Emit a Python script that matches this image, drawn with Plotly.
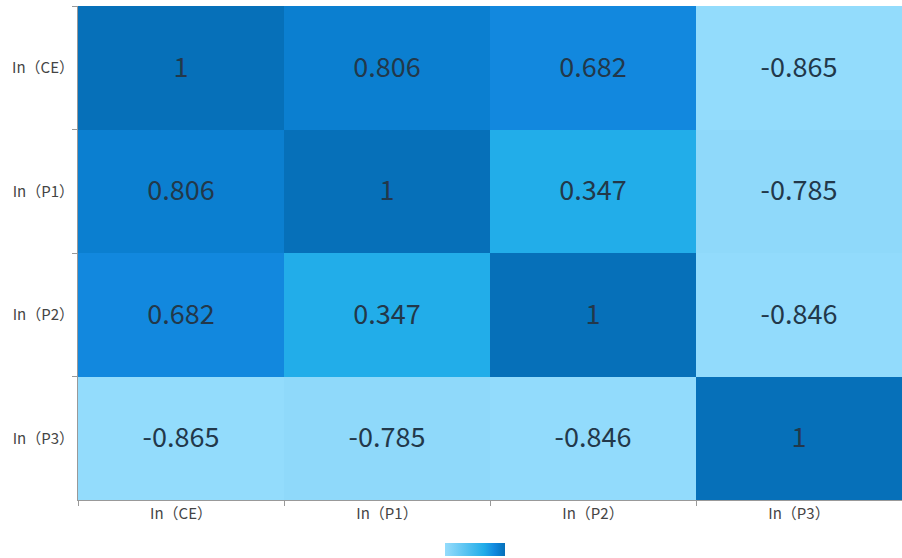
import plotly.graph_objects as go

labels = ["In（CE）", "In（P1）", "In（P2）", "In（P3）"]
corr = [
    [1, 0.806, 0.682, -0.865],
    [0.806, 1, 0.347, -0.785],
    [0.682, 0.347, 1, -0.846],
    [-0.865, -0.785, -0.846, 1],
]
text = [[("1" if v == 1 else f"{v:g}") for v in row] for row in corr]

zmin, zmax = -0.865, 1.0
def pos(v):
    return (v - zmin) / (zmax - zmin)

colorscale = [
    [0.0, "#93dcfc"],
    [pos(-0.785), "#8fd9fa"],
    [pos(0.347), "#22ade9"],
    [pos(0.682), "#1288de"],
    [pos(0.806), "#0b7fd0"],
    [1.0, "#0670b9"],
]

fig = go.Figure(go.Heatmap(
    z=corr, x=labels, y=labels, text=text, texttemplate="%{text}",
    textfont=dict(size=27, color="#22384a", family="Noto Sans CJK SC"),
    colorscale=colorscale, zmin=zmin, zmax=zmax,
    colorbar=dict(orientation="h", lenmode="pixels", len=80, thickness=13,
                  x=0.482, xanchor="center", y=-0.087, yanchor="top", ypad=0,
                  showticklabels=False, ticks="", outlinewidth=0),
))

fig.update_layout(
    width=902, height=558,
    margin=dict(l=78, r=0, t=6, b=58, autoexpand=False),
    paper_bgcolor="white", plot_bgcolor="white",
    font=dict(family="Noto Sans CJK SC", size=15, color="#444"),
)
fig.update_xaxes(showline=True, linecolor="#999", linewidth=1, ticks="outside",
                 tickson="boundaries", ticklen=5, tickcolor="#999",
                 showgrid=False, zeroline=False, tickfont=dict(size=15, color="#444"))
fig.update_yaxes(showline=True, linecolor="#999", linewidth=1, ticks="outside",
                 tickson="boundaries", ticklen=5, tickcolor="#999",
                 showgrid=False, zeroline=False, autorange="reversed",
                 tickfont=dict(size=15, color="#444"))

fig.write_html("out.html")
